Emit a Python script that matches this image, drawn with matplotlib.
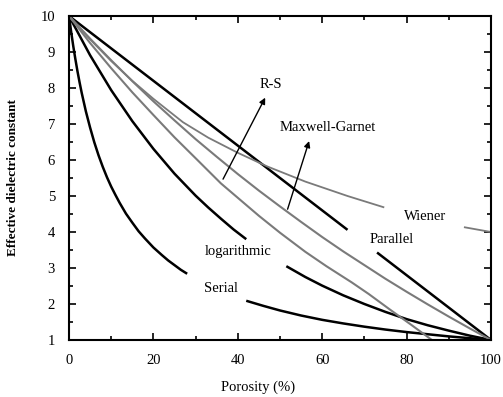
import numpy as np
import matplotlib
matplotlib.use("Agg")
import matplotlib.pyplot as plt
from matplotlib.ticker import MultipleLocator

plt.rcParams['font.family'] = ['Liberation Serif', 'DejaVu Serif']

# porosity (%) and effective dielectric constant for each model
p_par_a = [0, 20, 40, 60, 66]
e_par_a = [10, 8.2, 6.4, 4.6, 4.06]
p_par_b = [73, 100]
e_par_b = [3.43, 1.0]

p_ser_a = [0, 0.5, 1, 1.5, 2, 2.5, 3, 4, 5, 6, 7, 8, 9, 10, 11, 12, 13.5, 15, 16.5,
           18, 20, 22, 23.5, 25, 26.5, 28]
e_ser_a = [10, 9.57, 9.17, 8.81, 8.47, 8.16, 7.87, 7.35, 6.90, 6.49, 6.13, 5.81, 5.52,
           5.26, 5.03, 4.81, 4.51, 4.26, 4.02, 3.82, 3.57, 3.36, 3.21, 3.08, 2.95, 2.84]
p_ser_b = [42, 46, 50, 55, 60, 65, 70, 75, 80, 85, 90, 95, 100]
e_ser_b = [2.09, 1.95, 1.82, 1.68, 1.56, 1.46, 1.37, 1.29, 1.22, 1.16, 1.10, 1.05, 1.0]

p_log_a = [0, 5, 10, 15, 20, 25, 30, 33, 36, 39, 42]
e_log_a = [10, 8.91, 7.94, 7.08, 6.31, 5.62, 5.01, 4.68, 4.37, 4.07, 3.80]
p_log_b = [51.5, 56, 60, 65, 70, 75, 80, 85, 90, 95, 100]
e_log_b = [3.05, 2.75, 2.51, 2.24, 2.0, 1.78, 1.58, 1.41, 1.26, 1.12, 1.0]

p_mg = [0, 5, 10, 15, 20, 25, 30, 35, 40, 45, 50, 55, 60, 65, 70, 75, 80, 85, 90, 95, 100]
e_mg = [10, 9.37, 8.77, 8.19, 7.63, 7.10, 6.58, 6.09, 5.61, 5.15, 4.71, 4.28, 3.86,
        3.46, 3.08, 2.70, 2.34, 1.99, 1.65, 1.32, 1.0]

p_rs = [0, 5, 10, 15, 20, 25, 30, 36, 40, 45, 50, 56, 61, 67, 71, 76, 81, 86]
e_rs = [10, 9.25, 8.55, 7.88, 7.25, 6.63, 6.05, 5.35, 4.95, 4.45, 3.98, 3.45, 3.05,
        2.6, 2.28, 1.85, 1.43, 1.0]

p_wie_a = [0, 5, 10, 15, 20, 27, 33, 40, 47, 56, 66, 74.5]
e_wie_a = [10, 9.35, 8.75, 8.2, 7.7, 7.05, 6.62, 6.2, 5.82, 5.4, 5.0, 4.69]
p_wie_b = [93.8, 100]
e_wie_b = [4.13, 4.0]

fig = plt.figure(figsize=(5.03, 3.97), dpi=100)
ax = fig.add_axes([69 / 503, 1 - 340 / 397, 422 / 503, 324 / 397])

gray = '#7a7a7a'
for p, e in [(p_par_a, e_par_a), (p_par_b, e_par_b), (p_ser_a, e_ser_a),
             (p_ser_b, e_ser_b), (p_log_a, e_log_a), (p_log_b, e_log_b)]:
    ax.plot(p, e, color='black', lw=1.8, solid_capstyle='butt')
ax.plot(p_mg, e_mg, color=gray, lw=1.5)
ax.plot(p_rs, e_rs, color=gray, lw=1.5)
ax.plot(p_wie_a, e_wie_a, color=gray, lw=1.3)
ax.plot(p_wie_b, e_wie_b, color=gray, lw=1.3)

# arrows pointing from the curves to their labels
arrow = dict(arrowstyle='-|>', color='black', lw=1.0, mutation_scale=9)
ax.annotate('', xy=(46.8, 7.8), xytext=(36.2, 5.4), arrowprops=arrow)
ax.annotate('', xy=(57.1, 6.6), xytext=(51.6, 4.56), arrowprops=arrow)

lab = dict(fontsize=10.5, ha='center', va='center')
ax.text(47.8, 8.1, 'R-S', **lab)
ax.text(61.4, 6.89, 'Maxwell-Garnet', **lab)
ax.text(84.4, 4.42, 'Wiener', **lab)
ax.text(76.5, 3.78, 'Parallel', **lab)
ax.text(40, 3.45, 'logarithmic', **lab)
ax.text(36, 2.43, 'Serial', **lab)

ax.set_xlim(0, 100)
ax.set_ylim(1, 10)
ax.xaxis.set_major_locator(MultipleLocator(20))
ax.xaxis.set_minor_locator(MultipleLocator(10))
ax.yaxis.set_major_locator(MultipleLocator(1))
ax.yaxis.set_minor_locator(MultipleLocator(0.5))
ax.tick_params(which='both', direction='in', top=True, right=True, width=1.2)
ax.tick_params(which='major', length=5, labelsize=10.5, pad=10)
ax.tick_params(which='minor', length=3)
for s in ax.spines.values():
    s.set_linewidth(1.5)

fig.text(258 / 503, 1 - 387 / 397, 'Porosity (%)', fontsize=10.5, ha='center', va='center')
fig.text(13 / 503, 1 - 178 / 397, 'Effective dielectric constant', fontsize=9.5,
         fontweight='bold', rotation=90, ha='center', va='center')

fig.savefig('out.png', dpi=100)
